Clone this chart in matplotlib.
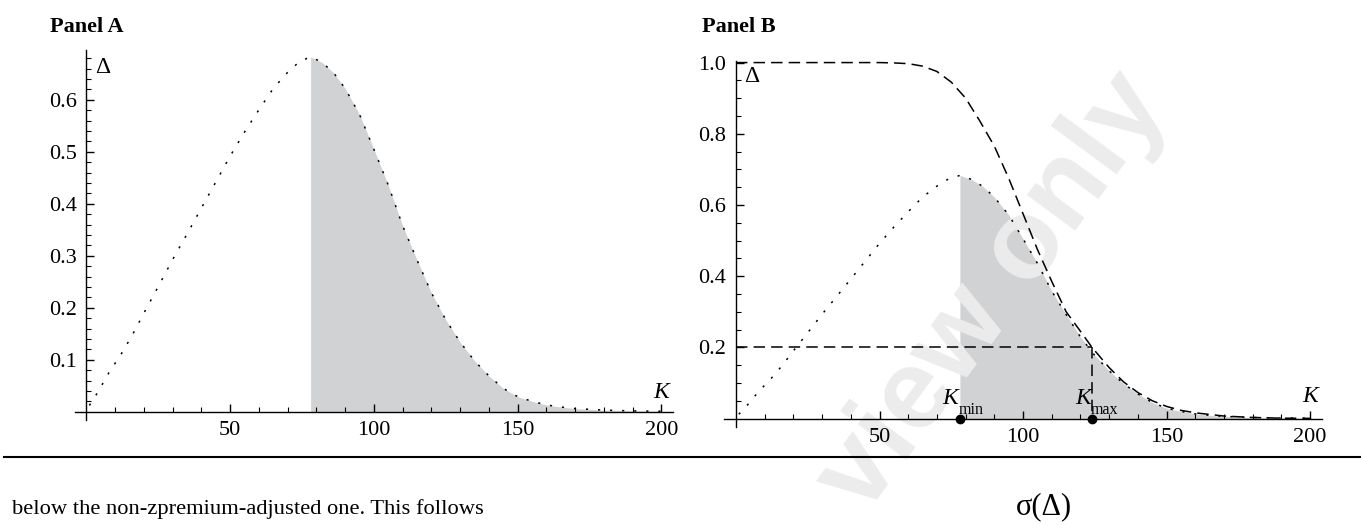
import matplotlib
matplotlib.use("Agg")
import matplotlib.pyplot as plt
import numpy as np

plt.rcParams['font.family'] = ['Liberation Serif', 'DejaVu Serif']

# dotted curve (both panels)
k_dot = [1, 4, 8, 12, 16, 20, 25, 30, 35, 40, 45, 50, 55, 60, 65, 70, 74, 78,
         82, 86, 90, 95, 100, 105, 110, 115, 120, 125, 130, 135, 140, 145, 150,
         155, 160, 165, 170, 180, 190, 200]
d_dot = [0.012, 0.038, 0.077, 0.110, 0.148, 0.190, 0.241, 0.293, 0.342, 0.392,
         0.442, 0.492, 0.538, 0.581, 0.622, 0.653, 0.673, 0.683,
         0.672, 0.652, 0.622, 0.572, 0.505, 0.436, 0.358, 0.292, 0.229, 0.177,
         0.134, 0.098, 0.069, 0.045, 0.029, 0.020, 0.013, 0.009, 0.006, 0.003,
         0.0015, 0.0008]

# dashed curve (panel B)
k_dash = [0, 10, 20, 30, 40, 50, 55, 60, 65, 70, 75, 80, 85, 90, 95, 100, 105,
          110, 115, 120, 124, 130, 135, 140, 145, 150, 155, 160, 170, 180, 190, 200]
d_dash = [1.0, 1.0, 1.0, 1.0, 1.0, 1.0, 0.999, 0.997, 0.99, 0.975, 0.945, 0.90,
          0.835, 0.765, 0.675, 0.575, 0.475, 0.385, 0.30, 0.245, 0.20, 0.143,
          0.103, 0.073, 0.050, 0.034, 0.023, 0.016, 0.007, 0.003, 0.001, 0.0005]

K_MIN = 78
K_MAX = 124
LEVEL = 0.2

SHADE = '#d1d2d4'
DOT = (0, (1.4, 6.5))
DASH = (0, (7.5, 4))

fig = plt.figure(figsize=(13.61, 5.25), dpi=100)
axA = fig.add_axes([0.0551, 0.2, 0.4392, 0.7048])
axB = fig.add_axes([0.5323, 0.1872, 0.4388, 0.697])


def style(ax, ymax_major, ystep, yminor):
    for s in ['top', 'right']:
        ax.spines[s].set_visible(False)
    ax.spines['left'].set_position(('data', 0))
    ax.spines['bottom'].set_position(('data', 0))
    ax.spines['left'].set_linewidth(1.0)
    ax.spines['bottom'].set_linewidth(1.0)
    ax.set_xticks([50, 100, 150, 200])
    ax.set_xticks(np.arange(10, 201, 10), minor=True)
    yt = np.round(np.arange(ystep, ymax_major + 1e-9, ystep), 2)
    ax.set_yticks(yt)
    ax.set_yticklabels(['%.1f' % v for v in yt])
    ax.set_yticks(np.round(np.arange(yminor, ax.get_ylim()[1], yminor), 3), minor=True)
    ax.tick_params(which='major', direction='in', length=6, width=1.0,
                   labelsize=16, pad=7)
    ax.tick_params(which='minor', direction='in', length=3.5, width=0.8)


k_fill = [k for k in k_dot if k >= K_MIN]
d_fill = [d for k, d in zip(k_dot, d_dot) if k >= K_MIN]

# Panel A
axA.set_xlim(-4, 204)
axA.set_ylim(-0.016, 0.696)
axA.fill_between(k_fill, 0, d_fill, color=SHADE, lw=0, zorder=1)
axA.plot(k_dot, d_dot, color='black', lw=1.1, ls=DOT, zorder=3)
style(axA, 0.6, 0.1, 0.02)
axA.text(3, 0.662, 'Δ', fontsize=17, va='center', ha='left')
axA.text(200, 0.036, 'K', fontsize=17, style='italic', ha='center', va='center')

# Panel B
axB.set_xlim(-4, 204)
axB.set_ylim(-0.023, 1.005)
axB.fill_between(k_fill, 0, d_fill, color=SHADE, lw=0, zorder=1)
axB.plot(k_dot, d_dot, color='black', lw=1.1, ls=DOT, zorder=3)
axB.plot(k_dash, d_dash, color='black', lw=1.1, ls=DASH, zorder=3)
axB.plot([0, K_MAX], [LEVEL, LEVEL], color='black', lw=1.1, ls=DASH, zorder=3)
axB.plot([K_MAX, K_MAX], [LEVEL, 0], color='black', lw=1.1, ls=DASH, zorder=3)
axB.plot([K_MIN, K_MAX], [0, 0], 'o', color='black', ms=6, zorder=5, clip_on=False)
style(axB, 1.0, 0.2, 0.05)
axB.text(3, 0.962, 'Δ', fontsize=17, va='center', ha='left')
axB.text(200, 0.062, 'K', fontsize=17, style='italic', ha='center', va='center')
axB.text(K_MIN - 0.5, 0.042, 'K', fontsize=17, style='italic', ha='right', va='baseline')
axB.text(K_MIN - 0.3, 0.014, 'min', fontsize=11.5, ha='left', va='baseline')
axB.text(K_MAX - 0.5, 0.042, 'K', fontsize=17, style='italic', ha='right', va='baseline')
axB.text(K_MAX - 0.3, 0.014, 'max', fontsize=11.5, ha='left', va='baseline')

# watermark, above the shading but under the axis labels and curves
axB.text(0.7300, 0.4420, 'view only', transform=fig.transFigure, fontsize=82,
         fontweight='bold', family='Liberation Sans', color='#ececec',
         rotation=53.6, ha='center', va='center', zorder=1.2, clip_on=False)

# titles and page text
fig.text(0.0367, 0.949, 'Panel A', fontsize=16, fontweight='bold', va='center')
fig.text(0.5158, 0.949, 'Panel B', fontsize=16, fontweight='bold', va='center')
fig.add_artist(plt.Line2D([0.003, 1.0], [0.1295, 0.1295], color='black', lw=1.5))
fig.text(0.009, 0.030, 'below the non-zpremium-adjusted one. This follows',
         fontsize=16.2, va='center')
fig.text(0.767, 0.034, 'σ(Δ)', fontsize=22, ha='center', va='center')

fig.savefig('out.png', dpi=100)
